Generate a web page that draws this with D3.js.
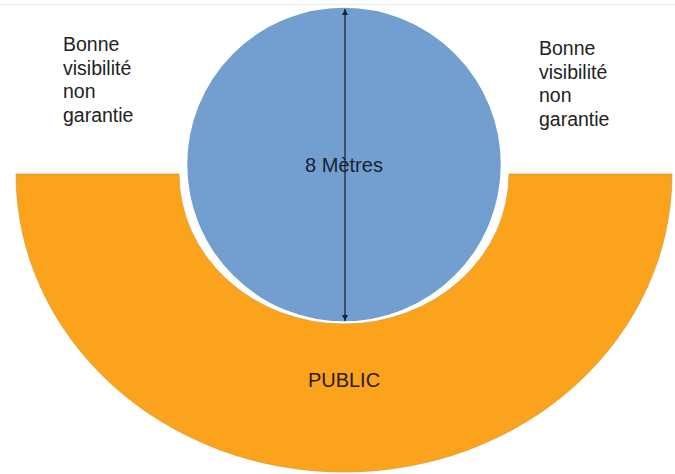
<!DOCTYPE html>
<html>
<head>
<meta charset="utf-8">
<script src="https://cdn.jsdelivr.net/npm/d3@7"></script>
<style>
  body { margin: 0; background: #fff; }
</style>
</head>
<body>
<div class="container"></div>
<script>
// zone sizes in metres
var stageDiameter = 8;
var stageLabel = '8 Mètres';
var publicLabel = 'PUBLIC';
var publicOuter = [8.33, 7.57];   // half-width, depth
var publicInner = [4.19, 3.81];
var sideLabel = ['Bonne', 'visibilité', 'non', 'garantie'];

var w = 675;
var h = 474;

var svg = d3.select('.container')
  .append('svg')
  .attr('width', w)
  .attr('height', h);

// metres -> pixels
var m = d3.scaleLinear()
  .domain([0, stageDiameter])
  .range([0, 315]);

var cx = 344;
var baseY = 174;         // front edge of public area
var stageCy = 7 + m(stageDiameter / 2);

// faint top border
svg.append('line')
  .attr('x1', 0).attr('x2', w)
  .attr('y1', 4.5).attr('y2', 4.5)
  .attr('stroke', '#ececec');

/* Public half ring */
var ox = m(publicOuter[0]), oy = m(publicOuter[1]);
var ix = m(publicInner[0]), iy = m(publicInner[1]);

var ring = d3.path();
ring.moveTo(cx - ox, baseY);
svg.append('path')
  .attr('d', 'M' + (cx - ox) + ',' + baseY +
    ' A' + ox + ',' + oy + ' 0 0 0 ' + (cx + ox) + ',' + baseY +
    ' L' + (cx + ix) + ',' + baseY +
    ' A' + ix + ',' + iy + ' 0 0 1 ' + (cx - ix) + ',' + baseY + ' Z')
  .attr('fill', '#fba31c')
  .attr('stroke', '#d98e2a')
  .attr('stroke-width', 0.6);

/* Stage circle */
svg.append('circle')
  .attr('cx', cx)
  .attr('cy', stageCy)
  .attr('r', m(stageDiameter / 2))
  .attr('fill', '#729fcf')
  .attr('stroke', '#ffffff')
  .attr('stroke-width', 1.5);

/* Diameter arrow */
var defs = svg.append('defs');
defs.append('marker')
  .attr('id', 'arrowEnd')
  .attr('viewBox', '0 0 10 10')
  .attr('refX', 10).attr('refY', 5)
  .attr('markerWidth', 6).attr('markerHeight', 6)
  .attr('markerUnits', 'userSpaceOnUse')
  .attr('orient', 'auto')
  .append('path')
  .attr('d', 'M0,0 L10,5 L0,10 Z')
  .attr('fill', '#1b2535');

var arrowX = cx + 1;
svg.append('line')
  .attr('x1', arrowX).attr('x2', arrowX)
  .attr('y1', stageCy - m(stageDiameter / 2) + 2)
  .attr('y2', stageCy + m(stageDiameter / 2) - 1)
  .attr('stroke', '#1b2535')
  .attr('stroke-width', 1.3)
  .attr('marker-start', 'url(#arrowEnd)')
  .attr('marker-end', 'url(#arrowEnd)');
svg.select('#arrowEnd').attr('orient', 'auto-start-reverse');

/* Texts */
svg.append('text')
  .attr('x', cx).attr('y', 172)
  .attr('text-anchor', 'middle')
  .attr('font-family', 'Liberation Sans, Arial, sans-serif')
  .attr('font-size', '20px')
  .attr('fill', '#1a2333')
  .text(stageLabel);

svg.append('text')
  .attr('x', cx).attr('y', 387)
  .attr('text-anchor', 'middle')
  .attr('font-family', 'Liberation Sans, Arial, sans-serif')
  .attr('font-size', '20px')
  .attr('fill', '#2a1a08')
  .text(publicLabel);

function sideText(x, y) {
  var t = svg.append('text')
    .attr('font-family', 'Liberation Sans, Arial, sans-serif')
    .attr('font-size', '19.5px')
    .attr('fill', '#222');
  t.selectAll('tspan')
    .data(sideLabel)
    .enter()
    .append('tspan')
    .attr('x', x)
    .attr('y', function(d, i) { return y + i * 23.5; })
    .text(function(d) { return d; });
}
sideText(63, 51);
sideText(539, 55);
</script>
</body>
</html>
